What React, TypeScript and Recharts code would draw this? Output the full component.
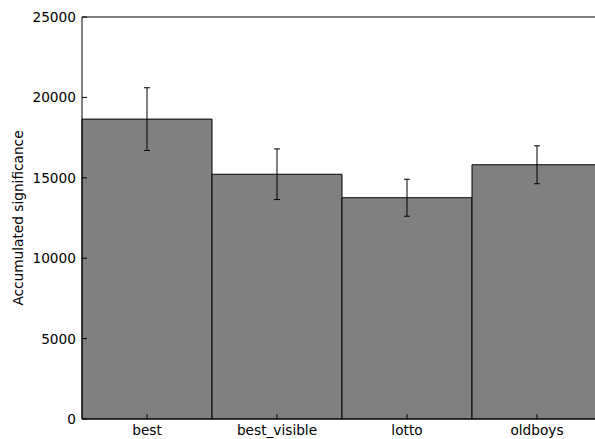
import React from "react";
import { BarChart, Bar, XAxis, YAxis, ErrorBar, ReferenceLine } from "recharts";

const categories = ["best", "best_visible", "lotto", "oldboys"];
const values = [18650, 15220, 13760, 15810];
const errors = [1950, 1575, 1150, 1180];
const yTicks = [0, 5000, 10000, 15000, 20000, 25000];

const data = categories.map((name, i) => ({ name, value: values[i], err: errors[i] }));

const FONT = "DejaVu Sans, sans-serif";
const FS = 13.7;

const XTick = (props: any) => {
  const { x, y, payload } = props;
  return (
    <g>
      <line x1={x} y1={y} x2={x} y2={y - 5} stroke="#000" strokeWidth={1} />
      <text x={x} y={y + 16} textAnchor="middle" fontFamily={FONT} fontSize={FS} fill="#000">
        {payload.value}
      </text>
    </g>
  );
};

const TopTick = (props: any) => {
  const { x, y } = props;
  return <line x1={x} y1={y} x2={x} y2={y + 5} stroke="#000" strokeWidth={1} />;
};

const YTick = (props: any) => {
  const { x, y, payload } = props;
  return (
    <g>
      <line x1={x} y1={y} x2={x + 5} y2={y} stroke="#000" strokeWidth={1} />
      <text x={x - 6} y={y} textAnchor="end" dominantBaseline="central" fontFamily={FONT} fontSize={FS} fill="#000">
        {payload.value}
      </text>
    </g>
  );
};

const YLabel = (props: any) => {
  const vb = props.viewBox || { x: 0, y: 17, width: 82, height: 402 };
  const cx = 18;
  const cy = vb.y + vb.height / 2;
  return (
    <text
      x={cx}
      y={cy}
      transform={`rotate(-90, ${cx}, ${cy})`}
      textAnchor="middle"
      dominantBaseline="central"
      fontFamily={FONT}
      fontSize={FS}
      fill="#000"
    >
      Accumulated significance
    </text>
  );
};

export default function App() {
  return (
    <div style={{ position: "fixed", left: 0, top: 0, width: 595, height: 439, overflow: "hidden", background: "#fff" }}>
      <BarChart
        width={602}
        height={439}
        data={data}
        margin={{ top: 17, right: 0, bottom: 0, left: 0 }}
        barCategoryGap={0}
        barGap={0}
      >
        <XAxis
          dataKey="name"
          height={20}
          tickLine={false}
          tickSize={0}
          tickMargin={0}
          axisLine={{ stroke: "#000", strokeWidth: 1 }}
          tick={<XTick />}
          interval={0}
        />
        <XAxis
          xAxisId="top"
          dataKey="name"
          orientation="top"
          height={0}
          tickLine={false}
          tickSize={0}
          tickMargin={0}
          axisLine={{ stroke: "#000", strokeWidth: 1 }}
          tick={<TopTick />}
          interval={0}
        />
        <YAxis
          width={82}
          domain={[0, 25000]}
          ticks={yTicks}
          type="number"
          tickLine={false}
          tickSize={0}
          tickMargin={0}
          axisLine={{ stroke: "#000", strokeWidth: 1 }}
          tick={<YTick />}
          label={<YLabel />}
          interval={0}
        />
        <ReferenceLine y={25000} stroke="#000" strokeWidth={1} />
        <Bar dataKey="value" fill="#808080" stroke="#000" strokeWidth={1} isAnimationActive={false}>
          <ErrorBar dataKey="err" width={3} stroke="#000" strokeWidth={1} direction="y" />
        </Bar>
      </BarChart>
    </div>
  );
}
